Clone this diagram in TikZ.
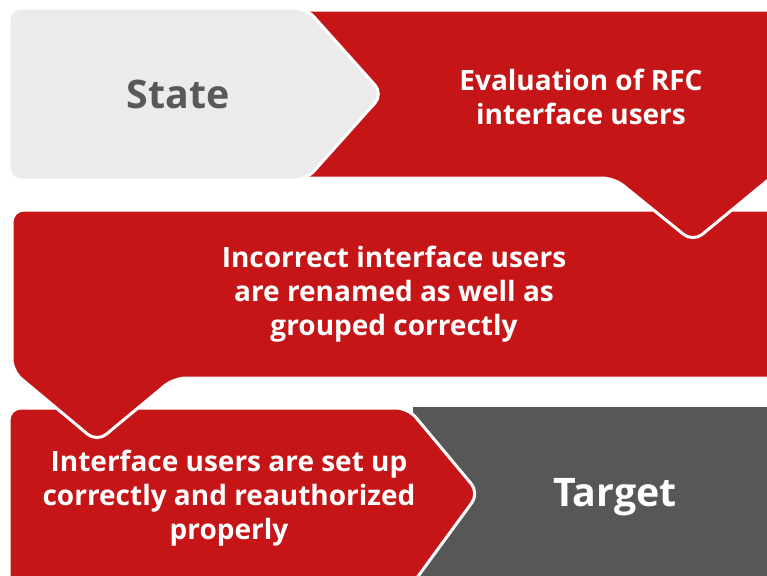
\documentclass[tikz,border=0pt]{standalone}
\usepackage{fontspec}
\setmainfont{Open Sans}
\usepackage{tikz}
\usetikzlibrary{calc}
\definecolor{Crimson}{RGB}{197, 21, 23}
\definecolor{Pale}{RGB}{235, 235, 235}
\definecolor{Slate}{RGB}{87, 87, 87}
\definecolor{Ink}{RGB}{89, 89, 89}

\begin{document}
\begin{tikzpicture}[x=0.75pt, y=-0.75pt,
    label/.style={align=center, text=white, font=\bfseries\fontsize{21}{25.5}\selectfont},
    big/.style={font=\bfseries\fontsize{29.5}{34}\selectfont}]
    %%Background
    \useasboundingbox (0,0) rectangle (767,575);
    \clip (0,0) rectangle (767,575);

    %% Target
    \fill[Slate] (413,407) rectangle (780,590);

    %% Bottom step
    \draw[fill=Crimson, draw=white, line width=2.25pt, rounded corners=9pt]
    (9,590) to (9,408) to (408,408) to (479,493) to (408,590);

    %% Middle step
    \draw[fill=Crimson, draw=white, line width=2.25pt, rounded corners=9pt]
    (12,210) to (780,210) to (780,378) to (174,378) to (97,442) to (12,371) -- cycle;

    %% Top step
    \draw[fill=Crimson, draw=white, line width=2.25pt, rounded corners=9pt]
    (300,10) to (790,10) to (790,162) to (693,242) to (614,178) to (300,178);

    %% State
    \draw[fill=Pale, draw=white, line width=2.25pt, rounded corners=9pt]
    (9,8) to (306,8) to (383,94) to (306,180) to (9,180) -- cycle;

    %% Texts
    \node[big, text=Ink] (state) at (178,94) {State};
    \node[label] (eval) at (581,97) {Evaluation of RFC\\interface users};
    \node[label] (rename) at (394,294) {Incorrect interface users\\are renamed as well as\\grouped correctly};
    \node[label] (setup) at (229,498) {Interface users are set up\\correctly and reauthorized\\properly};
    \node[big, text=white] (target) at (615,497) {Target};
\end{tikzpicture}
\end{document}
